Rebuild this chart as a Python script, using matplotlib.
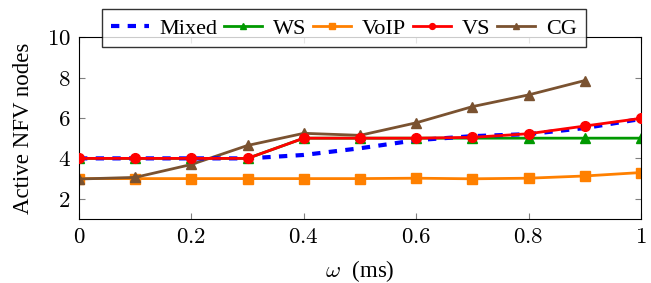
import matplotlib
matplotlib.use('Agg')
import matplotlib.pyplot as plt
import numpy as np

plt.rcParams['font.family'] = ['Liberation Serif', 'DejaVu Serif']
plt.rcParams['mathtext.fontset'] = 'cm'

omega = [0, 0.1, 0.2, 0.3, 0.4, 0.5, 0.6, 0.7, 0.8, 0.9, 1.0]
mixed = [4, 4, 4, 4, 4.17, 4.5, 4.9, 5.1, 5.2, 5.5, 5.95]
ws = [4, 4, 4, 4, 5, 5, 5, 5, 5, 5, 5]
voip = [3, 3, 3, 3, 3, 3, 3.02, 2.99, 3.02, 3.13, 3.3]
vs = [4, 4, 4, 4, 5, 5, 5, 5.04, 5.22, 5.6, 5.98]
omega_cg = [0, 0.1, 0.2, 0.3, 0.4, 0.5, 0.6, 0.7, 0.8, 0.9]
cg = [2.98, 3.06, 3.7, 4.64, 5.24, 5.14, 5.76, 6.56, 7.14, 7.85]

fig = plt.figure(figsize=(6.51, 2.83), dpi=100)
ax = fig.add_axes([0.1214, 0.226, 0.8632, 0.643])

ax.plot(omega, mixed, color='blue', lw=3, ls=(0, (2, 2)), label='Mixed', zorder=3)
ax.plot(omega, ws, color='#009900', lw=2, marker='^', ms=7, label='WS', zorder=2)
ax.plot(omega, voip, color='#ff8000', lw=2, marker='s', ms=6.5, label='VoIP', zorder=2)
ax.plot(omega, vs, color='red', lw=2, marker='o', ms=7, label='VS', zorder=4)
ax.plot(omega_cg, cg, color='#7a5230', lw=2, marker='^', ms=7, label='CG', zorder=2)

xt = [0, 0.2, 0.4, 0.6, 0.8, 1.0]
xl = ['0', '0.2', '0.4', '0.6', '0.8', '1']
yt = [2, 4, 6, 8, 10]
ax.set_xlim(0, 1)
ax.set_ylim(1, 10)
ax.set_xticks(xt)
ax.set_xticklabels(['$' + s + '$' for s in xl])
ax.set_yticks(yt)
ax.set_yticklabels(['$%d$' % v for v in yt])
ax.tick_params(direction='in', top=True, right=True, labelsize=16.5, color='#808080', length=4, pad=6)
ax.set_xlabel(r'$\omega\ $ (ms)', fontsize=16.5, labelpad=7)
ax.set_ylabel('Active NFV nodes', fontsize=16.5, labelpad=9)

leg = fig.legend(loc='center', bbox_to_anchor=(0.528, 0.9), ncol=5, fontsize=16,
                 frameon=True, fancybox=False, edgecolor='black', handlelength=1.7,
                 handletextpad=0.5, columnspacing=0.3, borderpad=0.4, markerscale=0.6)
leg.get_frame().set_linewidth(1)

fig.savefig('out.png', dpi=100)
